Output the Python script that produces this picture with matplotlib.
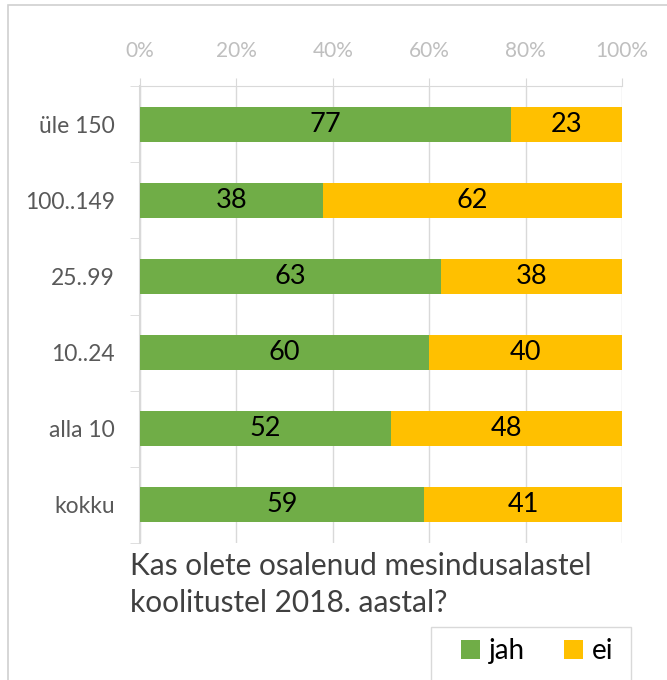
import numpy as np
import matplotlib
matplotlib.use("Agg")
import matplotlib.pyplot as plt
from matplotlib.patches import Rectangle

plt.rcParams['font.family'] = ['Lato', 'DejaVu Sans']

categories = ['üle 150', '100..149', '25..99', '10..24', 'alla 10', 'kokku']
jah = np.array([77, 38, 63, 60, 52, 59])
ei = np.array([23, 62, 38, 40, 48, 41])
series_names = ['jah', 'ei']
colors = ['#70AD47', '#FFC000']
xticks = [0, 20, 40, 60, 80, 100]
xtick_labels = ['0%', '20%', '40%', '60%', '80%', '100%']
title = 'Kas olete osalenud mesindusalastel\nkoolitustel 2018. aastal?'

# 100% stacked -> share of the row total
total = jah + ei
jah_pct = jah / total * 100
ei_pct = ei / total * 100

grid_col = '#D9D9D9'

fig = plt.figure(figsize=(6.67, 6.8), dpi=100)
ax = fig.add_axes([140/667, 1-543/680, 482/667, 457/680])

y = np.arange(len(categories))
b1 = ax.barh(y, jah_pct, height=0.46, color=colors[0], label=series_names[0], zorder=3)
b2 = ax.barh(y, ei_pct, left=jah_pct, height=0.46, color=colors[1], label=series_names[1], zorder=3)
ax.bar_label(b1, labels=[str(v) for v in jah], label_type='center', fontsize=19.5, color='black')
ax.bar_label(b2, labels=[str(v) for v in ei], label_type='center', fontsize=19.5, color='black')

ax.set_xlim(0, 100)
ax.set_ylim(len(categories)-0.5, -0.5)

# value axis on top
ax.xaxis.tick_top()
ax.set_xticks(xticks)
ax.set_xticklabels(xtick_labels)
ax.tick_params(axis='x', which='major', length=6, color=grid_col, labelcolor='#BFBFBF',
               labelsize=15, pad=12)
ax.grid(axis='x', color=grid_col, lw=1, zorder=0)

# category axis: labels at centers, tick marks between categories
ax.set_yticks(y)
ax.set_yticklabels(categories)
ax.set_yticks(np.arange(-0.5, len(categories), 1), minor=True)
ax.tick_params(axis='y', which='major', length=0, labelcolor='#595959', labelsize=16.5, pad=18)
ax.tick_params(axis='y', which='minor', length=7, color=grid_col)

for s in ['right', 'bottom']:
    ax.spines[s].set_visible(False)
ax.spines['top'].set_color(grid_col)
ax.spines['left'].set_color(grid_col)
ax.spines['left'].set_linewidth(1.5)

fig.text(130/667, 1-552/680, title, ha='left', va='top', fontsize=21.5,
         color='#404040', linespacing=1.4)

# legend without its own frame, box drawn separately (cut off at the bottom)
leg = fig.legend(loc='center left', bbox_to_anchor=(461/667, 1-651/680), ncol=2,
                 fontsize=20, frameon=False,
                 handlelength=0.7, handleheight=0.7, handletextpad=0.3,
                 columnspacing=1.4, borderpad=0, borderaxespad=0)
fig.patches.append(Rectangle((431/667, -0.05), 200/667, 0.05+1-627/680,
                             transform=fig.transFigure, fill=False,
                             edgecolor=grid_col, lw=1))

# outer chart border
fig.patches.append(Rectangle((8/667, -0.1), 1.2, 1.1-5/680, transform=fig.transFigure,
                             fill=False, edgecolor='#D0D0D0', lw=1.2))

fig.savefig('out.png', dpi=100)
